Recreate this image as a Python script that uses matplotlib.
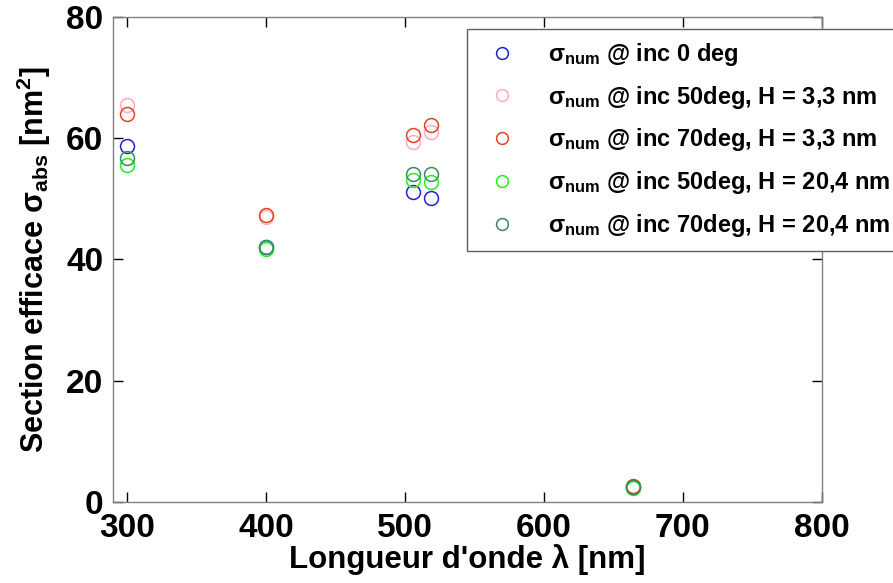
import matplotlib
matplotlib.use('Agg')
import matplotlib.pyplot as plt

# wavelengths (nm) and absorption cross sections (nm^2)
wavelengths = [300, 400, 506, 519, 664]
inc0 = [58.7, 42.0, 51.2, 50.1, 2.4]
inc50_h33 = [65.5, 47.0, 59.3, 61.0, 2.5]
inc70_h33 = [64.0, 47.3, 60.6, 62.1, 2.6]
inc50_h204 = [55.5, 41.7, 53.1, 52.8, 2.3]
inc70_h204 = [56.8, 42.0, 54.1, 54.1, 2.4]

labels = [r'$\sigma_{num}$ @ inc 0 deg',
          r'$\sigma_{num}$ @ inc 50deg, H = 3,3 nm',
          r'$\sigma_{num}$ @ inc 70deg, H = 3,3 nm',
          r'$\sigma_{num}$ @ inc 50deg, H = 20,4 nm',
          r'$\sigma_{num}$ @ inc 70deg, H = 20,4 nm']
colors = ['#2020d8', '#ffaac8', '#dd4422', '#22ee22', '#3a8a60']
series = [inc0, inc50_h33, inc70_h33, inc50_h204, inc70_h204]

plt.rcParams['font.family'] = ['Liberation Sans', 'DejaVu Sans']
plt.rcParams['font.weight'] = 'bold'
plt.rcParams['mathtext.fontset'] = 'custom'
plt.rcParams['mathtext.rm'] = 'Liberation Sans:bold'
plt.rcParams['mathtext.it'] = 'Liberation Sans:bold'
plt.rcParams['mathtext.bf'] = 'Liberation Sans:bold'

fig = plt.figure(figsize=(8.93, 5.83), dpi=100)
ax = fig.add_axes([0.1265, 0.139, 0.794, 0.832])

for vals, col, lab in zip(series, colors, labels):
    ax.plot(wavelengths, vals, 'o', mfc='none', mec=col, ms=10, mew=1.1,
            label=lab, linestyle='none')

ax.set_xlim(290, 800)
ax.set_ylim(0, 80)
ax.set_xticks([300, 400, 500, 600, 700, 800])
ax.set_yticks([0, 20, 40, 60, 80])
ax.tick_params(direction='in', length=7, width=1, top=True, right=True,
               color='black', labelsize=24)
ax.tick_params(axis='x', pad=8)
ax.tick_params(axis='y', pad=7)
for lbl in ax.get_xticklabels() + ax.get_yticklabels():
    lbl.set_fontweight('bold')
for sp in ax.spines.values():
    sp.set_color('#808080')
    sp.set_linewidth(1)

ax.set_xlabel("Longueur d'onde λ [nm]", fontsize=22.5, fontweight='bold',
              labelpad=0)
ax.set_ylabel(r'Section efficace $\sigma_{abs}$ [nm$^2$]', fontsize=22,
              fontweight='bold', labelpad=9)

leg = ax.legend(loc='upper left', bbox_to_anchor=(0.499, 0.975), fontsize=17,
                frameon=True, fancybox=False, borderpad=0.5, labelspacing=0.67,
                handletextpad=0.95, borderaxespad=0, markerscale=0.85,
                handlelength=2.0)
leg.get_frame().set_edgecolor('#606060')
leg.get_frame().set_linewidth(1)
leg.get_frame().set_alpha(1)

fig.savefig('out.png', dpi=100)
